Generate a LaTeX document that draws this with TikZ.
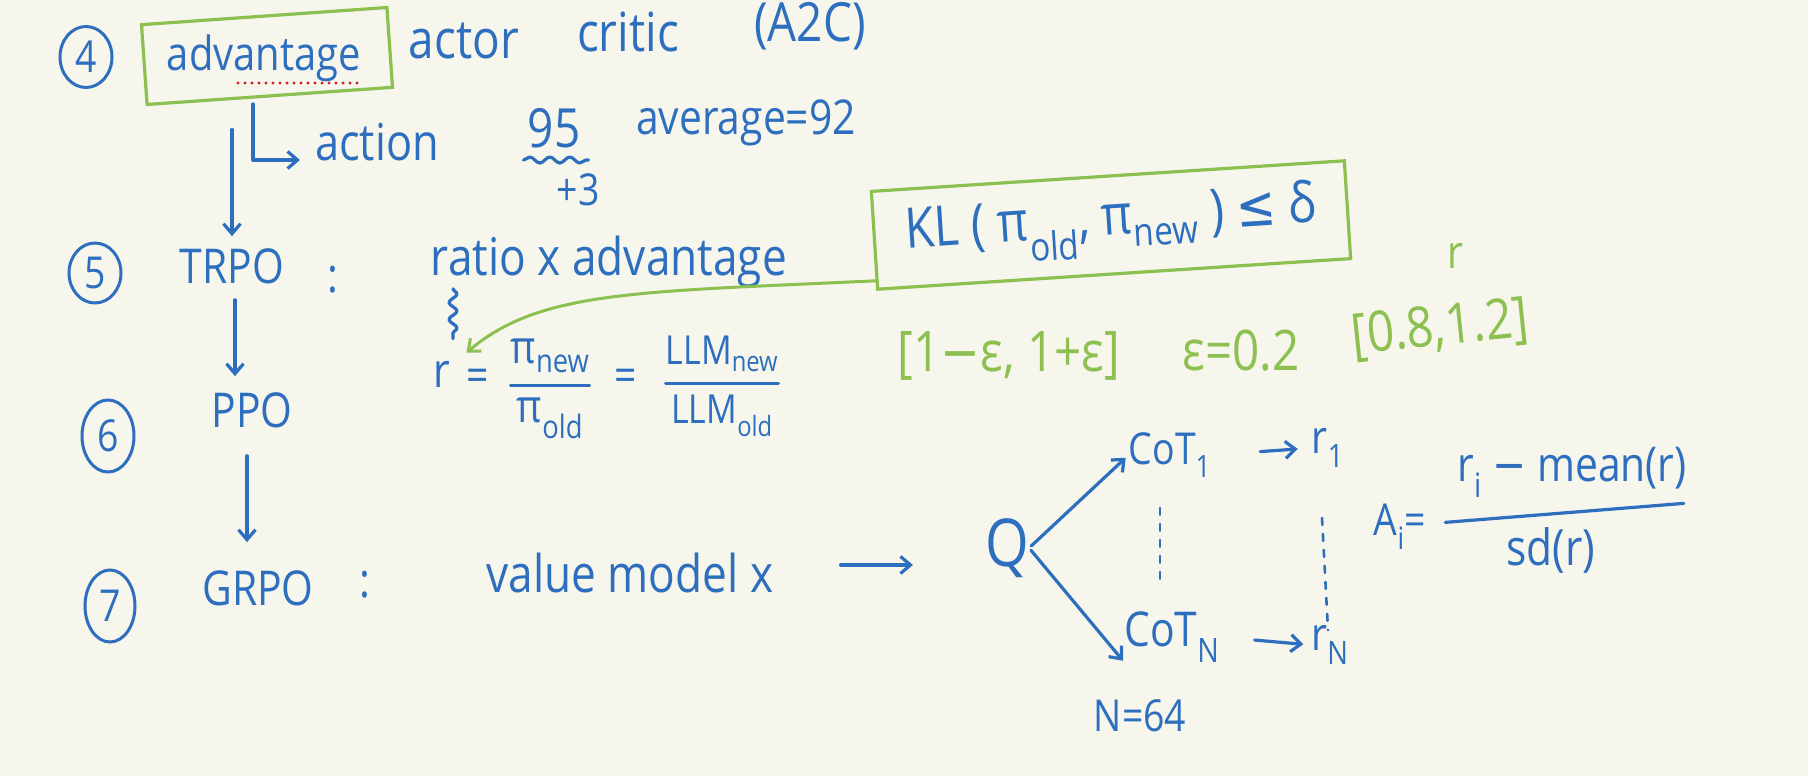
\documentclass[tikz,border=0pt]{standalone}
\usepackage{fontspec}
\setmainfont[FakeStretch=0.85]{Open Sans}
\newfontfamily\symf[FakeStretch=0.85]{DejaVu Sans}
\usetikzlibrary{arrows.meta,shapes.geometric,decorations.pathmorphing,calc}
\definecolor{bg}{RGB}{246,246,236}
\definecolor{pen}{RGB}{45,110,190}
\definecolor{gpen}{RGB}{140,192,80}
\definecolor{rdot}{RGB}{205,30,30}
\newcommand{\fs}[1]{\fontsize{#1}{#1}\selectfont}
\begin{document}
\begin{tikzpicture}[x=1pt,y=-1pt,
  hw/.style={text=pen,inner sep=0pt},
  ghw/.style={text=gpen,inner sep=0pt},
  numc/.style={draw=pen,line width=3pt,ellipse,inner sep=0pt,text=pen,font={\fs{44}}},
  gbox/.style={draw=gpen,line width=3.2pt},
  pline/.style={draw=pen,line width=3.2pt,line cap=round,line join=round},
  arr/.style={pline,-{Straight Barb[length=10pt,width=17pt]}},
  garr/.style={draw=gpen,line width=3pt,line cap=round,-{Straight Barb[length=10pt,width=17pt]}},
  wavy/.style={pline,decorate,decoration={snake,amplitude=4pt,segment length=17pt}},
  dashv/.style={pline,line width=2.6pt,dash pattern=on 7pt off 9pt},
]
\fill[bg] (0,0) rectangle (1808,776);
\useasboundingbox (0,0) rectangle (1808,776);

% --- row 4
\node[numc,minimum width=52,minimum height=61] (n4) at (86,57) {4};
\node[hw,font={\fs{47}}] (adv) at (264,58) {advantage};
\node[gbox,rotate=4,minimum width=246,minimum height=80] (advbox) at (267,56) {};
\draw[rdot,line width=3.4pt,line cap=round,dash pattern=on 0pt off 7pt] (238,83) -- (359,83);
\node[hw,font={\fs{54}}] (actor) at (464,41) {actor};
\node[hw,font={\fs{54}}] (critic) at (628,32) {critic};
\node[hw,font={\fs{54}}] (a2c) at (810,26) {(A2C)};

\node[hw,font={\fs{51}}] (action) at (377,142) {action};
\coordinate (hookstart) at (253,104);
\coordinate (hookend) at (300,160);
\draw[arr] (hookstart) |- (hookend);
\node[hw,font={\fs{54}}] (n95) at (554,128) {95};
\draw[wavy,decoration={snake,amplitude=3pt,segment length=20pt}] ($(n95.south west)+(-4,12)$) -- ($(n95.south east)+(8,12)$);
\node[hw,font={\fs{44}}] (p3) at (578,190) {+3};
\node[hw,font={\fs{48}}] (avg) at (746,123) {average=92};

% --- row 5
\node[numc,minimum width=52,minimum height=60] (n5) at (95,273) {5};
\node[hw,font={\fs{48}}] (trpo) at (232,266) {TRPO};
\node[hw,font={\fs{48}}] (col5) at (333,280) {:};
\node[hw,font={\fs{52}}] (ratio) at (609,262) {ratio x advantage};
\node[gbox,rotate=3.7,minimum width=474,minimum height=98,text=pen,font={\fs{56}}] (kl) at (1111,225)
  {KL ( π\textsubscript{old}, π\textsubscript{new} ) {\symf ≤} δ};
\node[ghw,font={\fs{46}}] (gr) at (1455,256) {r};

\draw[arr] ($(trpo.north |- advbox.south)+(0,32)$) -- ($(trpo.north)+(0,-12)$);

% ratio r
\node[hw,font={\fs{48}}] (req) at (442,374) {r};
\node[hw,font={\fs{46}}] (eq1) at (478,380) {=};
\node[hw,font={\fs{46}}] (pinew) at (550,356) {π\textsubscript{new}};
\node[hw,font={\fs{46}}] (piold) at (550,418) {π\textsubscript{old}};
\coordinate (f1m) at ($(pinew.south)!.5!(piold.north)$);
\draw[pline] (pinew.west |- f1m) -- (pinew.east |- f1m);
\node[hw,font={\fs{46}}] (eq2) at (626,380) {=};
\node[hw,font={\fs{40}}] (llmnew) at (722,354) {LLM\textsubscript{new}};
\node[hw,font={\fs{40}}] (llmold) at (722,416) {LLM\textsubscript{old}};
\coordinate (f2m) at ($(llmnew.south)!.5!(llmold.north)$);
\draw[pline] (llmnew.west |- f2m) -- (llmnew.east |- f2m);
\draw[wavy] ($(req.north)+(11,-72)$) -- ($(req.north)+(11,-22)$);
\coordinate (gs) at ($(kl.south west)!0.1!(kl.north west)$);
\draw[garr] (gs) .. controls (640,292) and (540,290) .. ($(req.north east)+(16,-8)$);

% green interval line
\node[ghw,font={\fs{56}}] (int1) at (1009,356) {[1{\symf −}ε, 1+ε]};
\node[ghw,font={\fs{56}}] (epsv) at (1241,351) {ε=0.2};
\node[ghw,font={\fs{56}},rotate=6] (int2) at (1440,329) {[0.8,1.2]};

% --- row 6
\node[numc,minimum width=52,minimum height=72] (n6) at (108,436) {6};
\node[hw,font={\fs{48}}] (ppo) at (252,410) {PPO};
\draw[arr] ($(trpo.south)+(3,16)$) -- ($(trpo.south |- ppo.north)+(3,-16)$);

% --- row 7
\node[numc,minimum width=50,minimum height=72] (n7) at (110,606) {7};
\node[hw,font={\fs{48}}] (grpo) at (258,588) {GRPO};
\draw[arr] ($(ppo.south)+(-5,28)$) -- ($(ppo.south |- grpo.north)+(-5,-28)$);
\node[hw,font={\fs{48}}] (col7) at (365,585) {:};
\node[hw,font={\fs{52}}] (vmx) at (630,573) {value model x};
\node[hw,font={\fs{66}}] (Q) at (1007,548) {Q};
\draw[arr] ($(vmx.east)+(67,-8)$) -- ($(Q.west)+(-72,17)$);

\node[hw,font={\fs{44}}] (cot1) at (1170,455) {CoT\textsubscript{1}};
\node[hw,font={\fs{48}}] (cotn) at (1172,637) {CoT\textsubscript{N}};
\node[hw,font={\fs{46}}] (r1) at (1328,448) {r\textsubscript{1}};
\node[hw,font={\fs{46}}] (rn) at (1330,645) {r\textsubscript{N}};
\draw[arr,shorten <=3pt,shorten >=4pt] (Q.east) -- (cot1.west);
\draw[arr,shorten <=3pt,shorten >=2pt] (Q.east) -- (cotn.south west);
\draw[arr,shorten <=49pt,shorten >=14pt] (cot1.east) -- (r1.west);
\draw[arr,shorten <=35pt,shorten >=8pt] (cotn.east) -- (rn.west);
\draw[dashv] ($(cot1.south)+(-10,30)$) -- ($(cotn.north)+(-12,-30)$);
\draw[dashv] ($(r1.south)+(-6,50)$) -- ($(rn.north)+(-2,5)$);
\node[hw,font={\fs{44}}] (n64) at (1140,716) {N=64};

\node[hw,font={\fs{44}}] (ai) at (1400,527) {A\textsubscript{i}=};
\node[hw,font={\fs{48}}] (num) at (1572,472) {r\textsubscript{i} {\symf −} mean(r)};
\node[hw,font={\fs{50}}] (den) at (1551,550) {sd(r)};
\draw[pline] ($(num.south west)+(-12,25)$) -- ($(num.south east)+(-3,6)$);
\end{tikzpicture}
\end{document}
